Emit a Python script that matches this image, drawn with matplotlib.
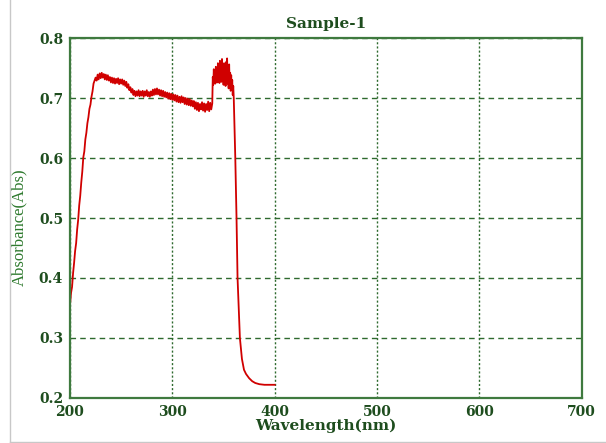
import matplotlib
matplotlib.use("Agg")
import matplotlib.pyplot as plt
from matplotlib.lines import Line2D

# ---- data ----
wl_main = list(range(200, 340))
abs_main = [
    0.355, 0.375, 0.385, 0.408, 0.425, 0.445, 0.458, 0.481, 0.497, 0.521,
    0.537, 0.559, 0.577, 0.601, 0.611, 0.631, 0.642, 0.658, 0.668, 0.682,
    0.689, 0.702, 0.711, 0.724, 0.729,
    0.734, 0.729, 0.739, 0.731, 0.741,
    0.733, 0.742, 0.734, 0.740, 0.731, 0.739, 0.730, 0.738, 0.729, 0.735,
    0.726, 0.734, 0.725, 0.733, 0.724, 0.732, 0.725, 0.733, 0.723, 0.731,
    0.724, 0.731, 0.722, 0.729, 0.720, 0.727, 0.717, 0.723, 0.713, 0.718,
    0.709, 0.715, 0.705, 0.712, 0.703, 0.711, 0.704, 0.713, 0.703, 0.711,
    0.704, 0.712, 0.702, 0.711, 0.704, 0.713, 0.703, 0.710, 0.702, 0.711,
    0.704, 0.714, 0.705, 0.715, 0.706, 0.716, 0.706, 0.714, 0.704, 0.713,
    0.703, 0.712, 0.702, 0.710, 0.701, 0.709, 0.699, 0.708, 0.698, 0.707,
    0.697, 0.706, 0.696, 0.705, 0.694, 0.704, 0.693, 0.702, 0.692, 0.703,
    0.693, 0.701, 0.690, 0.700, 0.689, 0.699, 0.688, 0.698, 0.687, 0.696,
    0.686, 0.695, 0.682, 0.693, 0.680, 0.692, 0.678, 0.690, 0.681, 0.693,
    0.679, 0.691, 0.677, 0.690, 0.680, 0.694, 0.678, 0.692, 0.681, 0.691,
]
wl_spike = [339.5, 340, 340.5, 341, 341.5, 342, 342.5, 343, 343.5, 344,
            344.5, 345, 345.5, 346, 346.5, 347, 347.5, 348, 348.5, 349,
            349.5, 350, 350.5, 351, 351.5, 352, 352.5, 353, 353.5, 354,
            354.5, 355, 355.5, 356, 356.5, 357, 357.5, 358, 358.5, 359,
            359.5]
abs_spike = [0.735, 0.722, 0.748, 0.728, 0.742, 0.724, 0.752, 0.730, 0.745, 0.726,
             0.758, 0.732, 0.750, 0.725, 0.762, 0.735, 0.748, 0.727, 0.765, 0.733,
             0.752, 0.722, 0.758, 0.730, 0.745, 0.720, 0.760, 0.728, 0.766, 0.724,
             0.748, 0.716, 0.756, 0.722, 0.742, 0.712, 0.738, 0.715, 0.730, 0.705,
             0.720]
wl_tail = [360, 361.5, 362.7, 363.7, 366, 368, 370, 372, 375, 378, 381, 385, 390, 395, 400]
abs_tail = [0.700, 0.600, 0.500, 0.400, 0.300, 0.265, 0.247, 0.240, 0.233, 0.228,
            0.225, 0.223, 0.222, 0.222, 0.222]

wavelength = wl_main + wl_spike + wl_tail
absorbance = abs_main + abs_spike + abs_tail

x_ticks = [200, 300, 400, 500, 600, 700]
y_ticks = [0.2, 0.3, 0.4, 0.5, 0.6, 0.7, 0.8]

# ---- styling ----
spine_c = "#3f7a3f"
grid_c = "#2e6a2e"
text_c = "#1e4d1e"
ylab_c = "#2f7a2f"

fig = plt.figure(figsize=(6.06, 4.43), dpi=100)
ax = fig.add_axes([0.1155, 0.1016, 0.8445, 0.8126])

ax.plot(wavelength, absorbance, color="#d00000", linewidth=1.3)

ax.set_xlim(200, 700)
ax.set_ylim(0.2, 0.8)
ax.set_xticks(x_ticks)
ax.set_yticks(y_ticks)
ax.set_xticklabels([str(t) for t in x_ticks])
ax.set_yticklabels([f"{t:.1f}" for t in y_ticks])

for s in ax.spines.values():
    s.set_color(spine_c)
    s.set_linewidth(1.6)

ax.tick_params(length=0, pad=5, labelcolor=text_c)
for lab in ax.get_xticklabels() + ax.get_yticklabels():
    lab.set_fontfamily("DejaVu Serif")
    lab.set_fontweight("bold")
    lab.set_fontsize(10)

ax.xaxis.grid(True, color=grid_c, linewidth=1.0, linestyle=(0, (1.5, 1.5)))
ax.yaxis.grid(True, color=grid_c, linewidth=1.0, linestyle=(0, (4, 3)))
ax.set_axisbelow(True)

ax.set_title("Sample-1", fontfamily="DejaVu Serif", fontweight="bold",
             fontsize=11, color=text_c, pad=7)
ax.set_xlabel("Wavelength(nm)", fontfamily="DejaVu Serif", fontweight="bold",
              fontsize=11, color=text_c, labelpad=0)
ax.set_ylabel("Absorbance(Abs)", fontfamily="Liberation Serif",
              fontsize=12, color=ylab_c)
ax.yaxis.set_label_coords(-0.084, 0.475)

# light grey outer frame (left and bottom)
fig.add_artist(Line2D([10 / 606, 10 / 606], [1 / 443, 1.0], transform=fig.transFigure,
                      color="#c8c8c8", linewidth=1.0))
fig.add_artist(Line2D([10 / 606, 1.0], [1.5 / 443, 1.5 / 443], transform=fig.transFigure,
                      color="#c8c8c8", linewidth=1.0))

fig.savefig("out.png", dpi=100, facecolor="white")
